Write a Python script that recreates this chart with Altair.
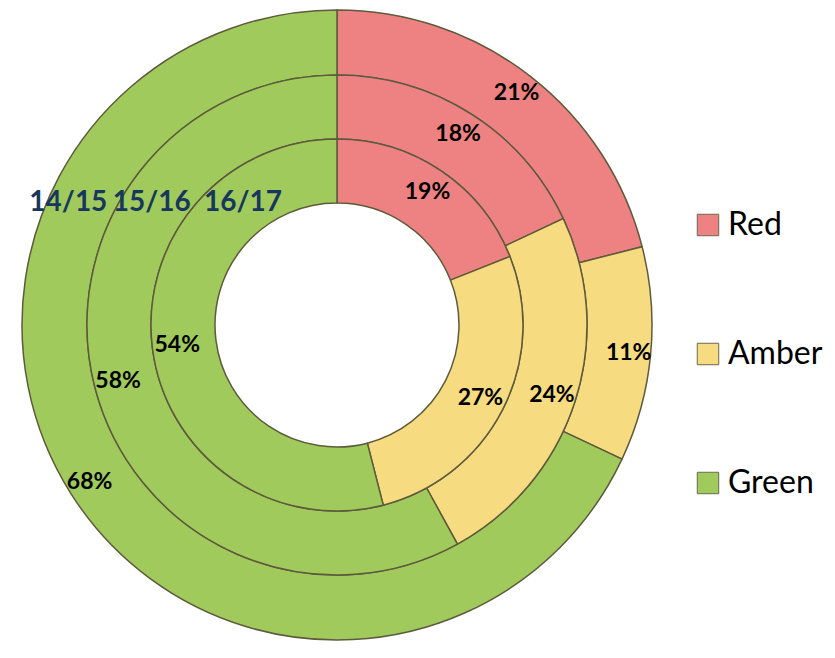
import math
import altair as alt
import pandas as pd

years = ["14/15", "15/16", "16/17"]
categories = ["Red", "Amber", "Green"]
red = [21, 18, 19]
amber = [11, 24, 27]
green = [68, 58, 54]
colors = ["#EE8282", "#F6DB80", "#A0CA5C"]

rows = []
for i, y in enumerate(years):
    for j, (c, v) in enumerate(zip(categories, [red[i], amber[i], green[i]])):
        rows.append({"year": y, "cat": c, "idx": j, "pct": v, "label": f"{v}%"})
df = pd.DataFrame(rows)
df_years = pd.DataFrame({"year": years})

# ring geometry per year: outer radius, inner radius, label radius, year-label angle (deg), year-label radius
rings = {
    "14/15": (315, 250, 293, 294.4, 295),
    "15/16": (250, 186, 226, 303.4, 222),
    "16/17": (186, 122, 161, 322.4, 154),
}

color_scale = alt.Scale(domain=categories, range=colors)
layers = []
for y in years:
    ro, ri, rl, ya, yr = rings[y]
    base = alt.Chart(df).transform_filter(alt.datum.year == y)
    arc = base.mark_arc(stroke="#5E5A3C", strokeWidth=1.5).encode(
        theta=alt.Theta("pct:Q", stack=True, scale=alt.Scale(domain=[0, 100])),
        order=alt.Order("idx:Q"),
        color=alt.Color(
            "cat:N",
            scale=color_scale,
            sort=categories,
            legend=alt.Legend(
                title=None,
                orient="none",
                legendX=684,
                legendY=201,
                symbolType="square",
                symbolSize=460,
                symbolStrokeColor="#6A6A50",
                symbolStrokeWidth=1,
                labelFont="Lato",
                labelFontSize=32,
                labelColor="#000000",
                labelOffset=4,
                rowPadding=97,
            ),
        ),
        radius=alt.value(ro),
        radius2=alt.value(ri),
    )
    txt = base.mark_text(
        font="Lato", fontSize=23, fontWeight="bold", color="#000000",
        align="center", baseline="middle",
    ).encode(
        theta=alt.Theta("pct:Q", stack=True, scale=alt.Scale(domain=[0, 100])),
        order=alt.Order("idx:Q"),
        radius=alt.value(rl),
        text="label:N",
    )
    ylab = alt.Chart(df_years).transform_filter(alt.datum.year == y).mark_text(
        font="Lato", fontSize=28, fontWeight="bold", color="#17375E",
        align="center", baseline="middle",
    ).encode(
        theta=alt.value(math.radians(ya)),
        radius=alt.value(yr),
        text="year:N",
    )
    layers += [arc, txt, ylab]

chart = alt.layer(*layers).properties(
    width=658,
    height=634,
    autosize="none",
    padding={"left": 0, "top": 0, "right": 161, "bottom": 0},
).configure_view(stroke=None)

chart.save("out.html", embed_options={"renderer": "svg", "actions": False})
